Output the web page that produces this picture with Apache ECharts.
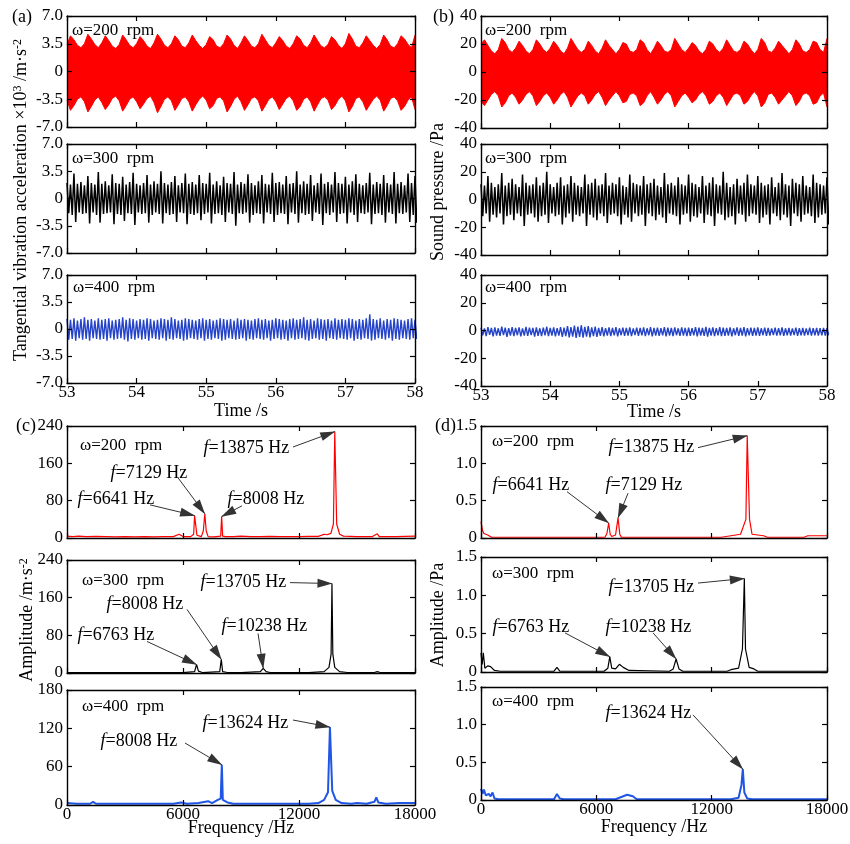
<!DOCTYPE html>
<html><head><meta charset="utf-8">
<script src="https://cdn.jsdelivr.net/npm/echarts@6/dist/echarts.min.js"></script>
<style>html,body{margin:0;padding:0;background:#fff}#c{width:850px;height:844px}</style>
</head><body><div id="c"></div><script>
// ---------------- DATA ----------------
const tStart = 53, tStep = 0.05;
const timeTicks = [53, 54, 55, 56, 57, 58];
const accTicks = [-7, -3.5, 0, 3.5, 7];
const presTicks = [-40, -20, 0, 20, 40];
const freqTicks = [0, 6000, 12000, 18000];
const ampAccTicks240 = [0, 80, 160, 240];
const ampAccTicks180 = [0, 60, 120, 180];
const ampPaTicks = [0, 0.5, 1.0, 1.5];

// (a) 200 rpm envelope (x10^3 m/s^2)
const a200Upper = [3.4,4.5,4.0,3.3,3.0,3.5,4.7,4.1,3.4,3.0,
3.6,4.5,3.9,3.2,2.9,3.4,4.6,4.0,3.3,3.0,
3.5,4.4,3.9,3.2,2.9,3.6,4.7,4.1,3.3,3.0,
3.5,4.5,4.0,3.2,3.0,3.6,4.6,3.9,3.3,2.9,
3.4,4.4,4.0,3.2,3.0,3.5,4.6,4.1,3.3,2.9,
3.6,4.5,3.9,3.2,3.0,3.5,4.7,4.0,3.3,3.0,
3.6,4.4,3.9,3.2,2.9,3.5,4.5,4.1,3.3,3.0,
3.6,4.6,3.9,3.2,3.0,3.4,4.4,4.0,3.3,2.9,
3.5,4.8,4.1,3.2,3.0,3.6,4.5,3.9,3.3,2.9,
3.4,4.6,4.0,3.2,3.0,3.5,4.5,4.1,3.4,3.0,4.6];
const a200Lower = [-3.6,-4.9,-4.3,-3.5,-3.2,-3.8,-5.1,-4.4,-3.6,-3.2,
-3.9,-4.8,-4.2,-3.4,-3.1,-3.7,-5.0,-4.3,-3.5,-3.2,
-3.8,-4.7,-4.1,-3.4,-3.1,-3.9,-5.2,-4.4,-3.5,-3.2,
-3.7,-4.9,-4.2,-3.4,-3.2,-3.8,-5.0,-4.2,-3.5,-3.1,
-3.6,-4.7,-4.3,-3.4,-3.2,-3.7,-5.1,-4.4,-3.5,-3.1,
-3.8,-4.9,-4.2,-3.4,-3.2,-3.7,-5.0,-4.3,-3.5,-3.2,
-3.8,-4.8,-4.1,-3.4,-3.1,-3.7,-4.9,-4.4,-3.5,-3.2,
-3.8,-5.0,-4.2,-3.4,-3.2,-3.6,-4.8,-4.3,-3.5,-3.1,
-3.7,-5.1,-4.4,-3.4,-3.2,-3.8,-4.9,-4.2,-3.5,-3.1,
-3.6,-5.0,-4.3,-3.4,-3.2,-3.7,-4.9,-4.4,-3.6,-3.2,-4.8];
// (a) 300 rpm oscillation peaks
const a300Up = [2.0,1.8,3.2,1.9,2.1,1.7,2.9,2.0,1.8,3.4,1.9,2.2,1.7,3.1,2.0,1.9,2.8,1.8,2.1,3.3,
1.9,1.7,2.0,3.0,1.8,2.2,1.9,3.5,2.0,1.8,2.1,2.9,1.7,2.0,3.2,1.9,2.1,1.8,3.0,2.0,
1.9,3.3,1.8,2.2,1.7,2.8,2.0,1.9,3.4,1.8,2.1,1.9,3.1,2.0,1.7,2.2,3.0,1.9,1.8,3.3,
2.0,2.1,1.8,2.9,1.9,2.0,3.5,1.8,2.2,1.9,3.0,1.7,2.0,3.2,1.9,2.1,1.8,3.4,2.0,1.9,
2.8,1.8,2.2,3.1,1.9,1.7,2.0,3.3,1.8,2.1,1.9,3.0,2.0,1.8,3.4,1.9,2.1,1.7,3.2,2.0,2.9];
const a300Down = [-1.9,-2.1,-3.0,-1.8,-2.0,-1.9,-3.2,-1.8,-2.1,-3.1,-2.0,-1.9,-1.8,-3.3,-2.0,-2.1,-2.9,-1.9,-2.0,-3.4,
-1.8,-2.0,-1.9,-3.1,-2.1,-1.8,-2.0,-3.2,-1.9,-2.1,-2.0,-3.0,-1.8,-1.9,-3.3,-2.0,-2.1,-1.9,-2.8,-2.0,
-1.8,-3.2,-2.0,-1.9,-2.1,-3.0,-1.8,-2.0,-3.5,-1.9,-2.0,-1.8,-3.1,-2.1,-1.9,-2.0,-3.2,-1.8,-2.0,-3.0,
-2.1,-1.9,-2.0,-3.3,-1.8,-2.0,-3.1,-1.9,-2.1,-2.0,-2.9,-1.8,-2.0,-3.4,-1.9,-2.1,-1.8,-3.0,-2.0,-1.9,
-3.2,-1.8,-2.1,-3.0,-1.9,-2.0,-1.8,-3.3,-2.0,-1.9,-2.1,-3.1,-1.8,-2.0,-3.2,-1.9,-2.0,-1.8,-3.0,-2.1,-3.1];
// (a) 400 rpm
const a400Up = [1.3,1.2,1.4,1.1,1.3,1.5,1.2,1.3,1.1,1.4,1.2,1.3,1.4,1.1,1.2,1.3,1.5,1.2,1.4,1.3,
1.1,1.3,1.2,1.4,1.3,1.1,1.2,1.4,1.3,1.2,1.5,1.3,1.1,1.2,1.4,1.3,1.2,1.1,1.3,1.4,
1.2,1.3,1.1,1.2,1.4,1.3,1.2,1.3,1.1,1.4,1.2,1.3,1.2,1.1,1.3,1.4,1.2,1.3,1.1,1.2,
1.4,1.3,1.2,1.1,1.3,1.4,1.2,1.3,1.5,1.2,1.3,1.1,1.4,1.3,1.2,1.3,1.1,1.4,1.2,1.3,
1.2,1.4,1.3,1.1,1.3,1.2,1.4,1.9,1.3,1.2,1.4,1.1,1.3,1.2,1.4,1.3,1.2,1.1,1.3,1.4,1.2];
const a400Down = [-1.4,-1.3,-1.5,-1.2,-1.4,-1.3,-1.5,-1.2,-1.3,-1.4,-1.3,-1.5,-1.2,-1.4,-1.3,-1.2,-1.4,-1.6,-1.3,-1.4,
-1.2,-1.4,-1.3,-1.5,-1.2,-1.3,-1.4,-1.2,-1.5,-1.3,-1.4,-1.2,-1.3,-1.5,-1.4,-1.2,-1.3,-1.4,-1.2,-1.5,
-1.3,-1.4,-1.2,-1.3,-1.5,-1.4,-1.2,-1.3,-1.4,-1.3,-1.2,-1.5,-1.3,-1.4,-1.2,-1.3,-1.4,-1.2,-1.5,-1.3,
-1.2,-1.4,-1.3,-1.5,-1.2,-1.4,-1.3,-1.2,-1.4,-1.5,-1.3,-1.2,-1.4,-1.3,-1.5,-1.2,-1.3,-1.4,-1.2,-1.3,
-1.4,-1.2,-1.5,-1.3,-1.4,-1.2,-1.3,-1.5,-1.4,-1.2,-1.3,-1.4,-1.2,-1.5,-1.3,-1.4,-1.2,-1.3,-1.4,-1.2,-1.3];
// (b) 200 rpm envelope (Pa)
const b200Upper = [20,23,19,15,13,16,24,21,16,14,
17,22,19,15,13,16,23,20,16,14,
17,22,19,15,13,17,24,20,16,14,
16,22,19,15,13,17,23,19,16,13,
16,21,20,15,14,16,23,21,16,13,
17,22,19,15,14,16,24,20,16,14,
17,21,19,15,13,16,22,20,16,14,
17,23,19,15,14,16,22,20,16,13,
16,24,21,15,14,17,22,19,16,13,
16,23,20,15,14,16,22,21,16,14,24];
const b200Lower = [-21,-24,-20,-16,-14,-17,-25,-22,-17,-15,
-18,-23,-20,-16,-14,-17,-24,-21,-17,-15,
-18,-23,-20,-16,-14,-18,-25,-21,-17,-15,
-17,-23,-20,-16,-14,-18,-24,-20,-17,-14,
-17,-22,-21,-16,-15,-17,-24,-22,-17,-14,
-18,-23,-20,-16,-14,-17,-25,-21,-17,-15,
-18,-22,-20,-16,-14,-17,-23,-21,-17,-15,
-18,-24,-20,-16,-15,-17,-23,-21,-17,-14,
-17,-25,-22,-16,-15,-18,-23,-20,-17,-14,
-17,-24,-21,-16,-15,-17,-23,-22,-17,-15,-25];
// (b) 300 rpm
const b300Up = [11,10,17,12,9,11,19,10,12,15,11,9,18,12,10,11,16,10,12,20,
11,9,12,16,10,11,17,12,10,9,18,11,12,15,10,11,19,10,12,11,
16,10,9,18,12,11,10,17,11,12,15,10,9,19,11,12,10,16,11,10,
18,12,11,9,17,10,12,16,11,10,20,12,9,11,15,10,12,18,11,10,
17,12,10,11,16,9,12,19,11,10,15,12,11,17,10,9,18,12,11,10,16];
const b300Down = [-12,-10,-16,-11,-13,-10,-18,-12,-11,-15,-10,-12,-19,-11,-10,-13,-16,-12,-11,-17,
-10,-12,-11,-18,-13,-10,-16,-11,-12,-10,-19,-11,-13,-15,-10,-12,-17,-11,-10,-12,
-18,-11,-13,-16,-10,-12,-11,-19,-10,-12,-15,-11,-13,-17,-10,-11,-12,-18,-11,-10,
-16,-12,-13,-10,-17,-11,-12,-19,-10,-11,-15,-13,-12,-18,-10,-11,-16,-12,-10,-11,
-17,-13,-11,-18,-10,-12,-15,-11,-13,-19,-10,-12,-16,-11,-10,-12,-17,-13,-11,-10,-18];
// (b) 400 rpm
const b400Up = [2,1.5,2.5,1.8,2.2,1.6,2.8,2,1.7,2.4,1.9,2.2,1.5,2.6,2,1.8,2.3,1.6,2.1,2.7,
1.9,2.3,1.7,2.5,2,3.2,2.4,3.5,2.8,3.8,2.6,3.1,2.2,2.8,1.9,2.4,1.7,2.2,1.8,2.5,
1.6,2.1,1.9,2.3,1.5,2,1.8,2.2,1.6,2.4,1.9,2.1,1.7,2.5,2,1.8,2.2,1.6,2.3,1.9,
2.1,1.7,2.4,2,1.8,2.6,1.9,2.2,1.7,2.4,2.1,1.8,2.3,1.6,2.2,1.9,2.5,1.7,2,1.8,
2.2,1.6,2.1,1.9,1.5,2,1.7,2.2,1.6,1.9,1.5,2.1,1.7,1.8,1.5,2,1.6,1.9,1.7,1.8,1.6];
const b400Down = [-3.5,-4,-3.2,-4.3,-3.6,-3.9,-3.3,-4.5,-3.7,-4,-3.4,-4.2,-3.6,-3.9,-3.3,-4.4,-3.8,-4.1,-3.5,-4,
-3.6,-4.3,-3.7,-4.6,-4,-5,-4.5,-5.3,-4.6,-5.1,-4.4,-4.9,-4.1,-4.6,-3.8,-4.3,-3.6,-4,-3.5,-4.2,
-3.4,-3.9,-3.6,-4.1,-3.3,-3.8,-3.5,-4,-3.4,-4.2,-3.6,-3.9,-3.5,-4.3,-3.7,-4,-3.4,-3.9,-3.6,-4.1,
-3.8,-3.5,-4.2,-3.7,-3.9,-4.4,-3.6,-4,-3.5,-4.1,-3.8,-3.6,-4.2,-3.4,-3.9,-3.7,-4.3,-3.5,-3.8,-3.6,
-3.9,-3.4,-3.8,-3.6,-3.3,-3.7,-3.5,-3.9,-3.4,-3.6,-3.3,-3.8,-3.5,-3.6,-3.3,-3.7,-3.4,-3.6,-3.5,-3.6,-3.4];

// (c) acceleration spectra (m/s^2)
const c200Freq = [0,300,600,1000,1500,2000,2500,3000,3500,4000,4500,5000,5500,5800,6000,6400,6550,6600,6680,6720,6800,6950,7050,7129,7200,7300,7600,7950,8000,8050,8200,8600,9000,9500,10000,10500,11000,11500,12000,12500,13000,13300,13450,13650,13780,13850,13900,13950,14100,14300,15000,15800,16050,16150,17000,18000];
const c200Amp = [4,3,4,3,3.5,3,2.5,3,2.5,3,2.5,3,3,8,3,3,8,48,48,6,3,3,15,52,15,3,2.5,4,46,4,3,3,4,3,3,3.5,3,3,3,3.5,3.5,8,7,10,30,228,228,30,8,4,3,3,9,3,3,4];
const c300Freq = [0,1000,3000,5000,6000,6600,6700,6800,7000,7900,7980,8050,8300,9000,10000,10150,10300,10500,12500,13300,13550,13660,13705,13750,13850,14100,14500,15900,16050,16200,18000];
const c300Amp = [1,1,1,1,1,3,18,4,1,3,29,3,1,1,3,10,3,1,1,3,12,40,190,40,12,3,1,1,3,1,1];
const c400Freq = [0,500,1200,1350,1500,3000,5500,5900,6200,6800,7300,7500,7800,7950,8008,8060,8300,8600,9500,11500,11600,11800,12500,13000,13300,13500,13600,13650,13720,13900,14200,14700,15000,15500,15900,16000,16100,16500,17200,17300,18000];
const c400Amp = [3,2,2,5,2,2,2,4,2,3,6,3,8,10,63,8,4,2,2,2,3,2,2,3,8,20,122,122,22,8,3,2,3,2,5,12,4,2,3,2,3];
// (d) sound pressure spectra (Pa)
const d200Freq = [0,80,150,250,350,450,550,1000,3000,6000,6450,6550,6641,6720,6800,7000,7129,7220,7300,9000,9100,9200,12500,13000,13500,13780,13850,13900,13970,14100,14700,14900,16800,17000,18000];
const d200Amp = [0.22,0.1,0.06,0.08,0.04,0.05,0.01,0.01,0.01,0.01,0.01,0.06,0.2,0.05,0.02,0.04,0.27,0.05,0.01,0.01,0.03,0.01,0.01,0.03,0.05,0.25,1.37,1.37,0.25,0.05,0.03,0.01,0.01,0.03,0.03];
const d300Freq = [0,60,120,200,350,500,700,1000,3800,3950,4100,6400,6600,6700,6800,7000,7200,7400,7700,9800,10000,10150,10300,10500,12800,13000,13400,13600,13700,13760,13950,14200,14400,18000];
const d300Amp = [0.25,0.1,0.25,0.05,0.08,0.07,0.02,0.01,0.01,0.06,0.01,0.01,0.05,0.2,0.05,0.04,0.1,0.06,0.02,0.01,0.04,0.17,0.04,0.01,0.01,0.03,0.05,0.3,1.22,0.3,0.06,0.04,0.01,0.01];
const d400Freq = [0,80,150,250,400,500,600,700,900,3800,3950,4100,4300,7000,7300,7600,7900,8100,13000,13400,13550,13620,13700,13850,14100,18000];
const d400Amp = [0.15,0.08,0.14,0.06,0.08,0.05,0.1,0.02,0.01,0.01,0.08,0.02,0.01,0.01,0.04,0.07,0.05,0.01,0.01,0.03,0.2,0.41,0.1,0.02,0.01,0.01];

// annotated peak frequencies (Hz)
const c200Peaks = [13875, 7129, 6641, 8008];
const c300Peaks = [13705, 8008, 10238, 6763];
const c400Peaks = [13624, 8008];
const d200Peaks = [13875, 6641, 7129];
const d300Peaks = [13705, 6763, 10238];
const d400Peaks = [13624];

// ---------------- BUILD ----------------
const FONT = '"Liberation Serif","Times New Roman",serif';
const RED = '#ff0000', BLACK = '#000000', BLUE_T = '#2443c8', BLUE_S = '#1f56e6';
const grids = [], xAxis = [], yAxis = [], series = [], graphic = [];

function txt(x, y, text, size, extra) {
  graphic.push(Object.assign({
    type: 'text', x: x, y: y, z: 50, silent: true,
    style: { text: text, font: size + 'px ' + FONT, fill: '#000',
      align: 'left', verticalAlign: 'middle', textAlign: 'left', textVerticalAlign: 'middle' }
  }, extra || {}));
}
const f1 = v => (v === 0 ? '0' : v.toFixed(1));
const f0 = v => String(v);

function panel(g) {
  const gi = grids.length;
  grids.push({ left: g.left, top: g.top, width: g.width, height: g.height, containLabel: false, outerBoundsMode: 'none' });
  const line = { show: true, onZero: false, lineStyle: { color: '#000', width: 1.4 } };
  const tick = { show: true, inside: true, length: 5, lineStyle: { color: '#000', width: 1.2 } };
  const lab = { color: '#000', fontFamily: FONT, fontSize: 17 };
  const xr = { min: g.xt[0], max: g.xt[g.xt.length - 1], interval: g.xt[1] - g.xt[0] };
  const yr = { min: g.yt[0], max: g.yt[g.yt.length - 1], interval: g.yt[1] - g.yt[0] };
  xAxis.push(Object.assign({ type: 'value', gridIndex: gi, position: 'bottom', axisLine: line, axisTick: tick, z: 5,
    splitLine: { show: false }, axisLabel: Object.assign({ show: !!g.showX, margin: 1, formatter: f0, showMinLabel: true, showMaxLabel: true }, lab) }, xr));
  xAxis.push(Object.assign({ type: 'value', gridIndex: gi, position: 'top', axisLine: line, axisTick: tick, z: 5,
    splitLine: { show: false }, axisLabel: { show: false } }, xr));
  yAxis.push(Object.assign({ type: 'value', gridIndex: gi, position: 'left', axisLine: line, axisTick: tick, z: 5,
    splitLine: { show: false }, axisLabel: Object.assign({ margin: 4, formatter: g.yFmt, showMinLabel: true, showMaxLabel: true }, lab) }, yr));
  yAxis.push(Object.assign({ type: 'value', gridIndex: gi, position: 'right', axisLine: line, axisTick: tick, z: 5,
    splitLine: { show: false }, axisLabel: { show: false } }, yr));
  txt(g.left + g.rpmDx, g.top + g.rpmDy, '\u03c9=' + g.rpm + '  rpm', 17);
  return { xi: 2 * gi, yi: 2 * gi, gi: gi };
}

const base = { showSymbol: false, symbol: 'none', silent: true, animation: false, clip: true };
// filled band: colour from the upper envelope down to the axis floor, then
// white from the lower envelope down to the floor (axes are drawn on top)
function band(ax, up, lo, color) {
  series.push(Object.assign({ type: 'line', xAxisIndex: ax.xi, yAxisIndex: ax.yi, z: 2,
    data: up.map((v, i) => [tStart + i * tStep, v]),
    lineStyle: { color: color, width: 1 }, areaStyle: { color: color, opacity: 1, origin: 'start' } }, base));
  series.push(Object.assign({ type: 'line', xAxisIndex: ax.xi, yAxisIndex: ax.yi, z: 3,
    data: lo.map((v, i) => [tStart + i * tStep, v]),
    lineStyle: { color: color, width: 1 }, areaStyle: { color: '#ffffff', opacity: 1, origin: 'start' } }, base));
}
function zig(ax, up, dn, color, w) {
  const d = [];
  up.forEach((v, i) => { d.push([tStart + i * tStep, v]); d.push([tStart + (i + 0.5) * tStep, dn[i]]); });
  series.push(Object.assign({ type: 'line', xAxisIndex: ax.xi, yAxisIndex: ax.yi, data: d,
    lineStyle: { color: color, width: w } }, base));
}
function peakNear(fr, am, f) {
  let bi = -1;
  fr.forEach((x, i) => { if (Math.abs(x - f) <= 250 && (bi < 0 || am[i] > am[bi])) bi = i; });
  return [fr[bi], am[bi]];
}
// ann: list of {at:[f,a] label anchor (left-middle), from:[f,a] arrow tail}
function spec(ax, fr, am, color, w, peaks, ann) {
  series.push(Object.assign({ type: 'line', xAxisIndex: ax.xi, yAxisIndex: ax.yi,
    data: fr.map((f, i) => [f, am[i]]), lineStyle: { color: color, width: w } }, base));
  series.push({
    type: 'scatter', xAxisIndex: ax.xi, yAxisIndex: ax.yi, silent: true, animation: false, z: 6,
    symbolSize: 1, itemStyle: { color: 'rgba(0,0,0,0)', opacity: 1 },
    data: peaks.map((p, k) => ({ value: ann[k].at, name: String(p) })),
    label: { show: true, position: 'right', distance: 0, color: '#000', opacity: 1,
      formatter: p => '{i|f}{n|=' + p.name + ' Hz}',
      rich: { i: { fontFamily: FONT, fontStyle: 'italic', fontSize: 18, color: '#000' },
              n: { fontFamily: FONT, fontSize: 18, color: '#000' } } },
    markLine: {
      silent: true, animation: false, symbol: ['none', 'triangle'], symbolSize: [0, 12],
      label: { show: false }, lineStyle: { color: '#333', width: 1, type: 'solid' },
      itemStyle: { color: '#000' },
      emphasis: { disabled: true },
      data: peaks.map((p, k) => [
        { coord: ann[k].from, symbol: 'none', symbolSize: 0 },
        { coord: peakNear(fr, am, p), symbol: 'triangle', symbolSize: [9, 15], symbolOffset: [0, 7],
          itemStyle: { color: '#000' } }
      ])
    }
  });
}

const L = { left: 67, width: 348 }, R = { left: 481, width: 346 };
// time panels
let ax;
ax = panel({ left: L.left, width: L.width, top: 16, height: 111, xt: timeTicks, yt: accTicks, yFmt: f1, rpm: 200, rpmDx: 5, rpmDy: 15 });
band(ax, a200Upper, a200Lower, RED);
ax = panel({ left: L.left, width: L.width, top: 144, height: 109, xt: timeTicks, yt: accTicks, yFmt: f1, rpm: 300, rpmDx: 5, rpmDy: 15 });
zig(ax, a300Up, a300Down, BLACK, 1.5);
ax = panel({ left: L.left, width: L.width, top: 275, height: 108, xt: timeTicks, yt: accTicks, yFmt: f1, rpm: 400, rpmDx: 6, rpmDy: 13, showX: true });
zig(ax, a400Up, a400Down, BLUE_T, 1.4);
ax = panel({ left: R.left, width: R.width, top: 16, height: 112, xt: timeTicks, yt: presTicks, yFmt: f0, rpm: 200, rpmDx: 4, rpmDy: 15 });
band(ax, b200Upper, b200Lower, RED);
ax = panel({ left: R.left, width: R.width, top: 144, height: 111, xt: timeTicks, yt: presTicks, yFmt: f0, rpm: 300, rpmDx: 4, rpmDy: 15 });
zig(ax, b300Up, b300Down, BLACK, 1.5);
ax = panel({ left: R.left, width: R.width, top: 275, height: 111, xt: timeTicks, yt: presTicks, yFmt: f0, rpm: 400, rpmDx: 4, rpmDy: 13, showX: true });
zig(ax, b400Up, b400Down, BLUE_T, 1.4);

// spectrum panels
ax = panel({ left: L.left, width: L.width, top: 426, height: 112, xt: freqTicks, yt: ampAccTicks240, yFmt: f0, rpm: 200, rpmDx: 13, rpmDy: 20 });
spec(ax, c200Freq, c200Amp, RED, 1.2, c200Peaks, [
  { at: [7036, 193], from: [11690, 195] }, { at: [2224, 139], from: [5742, 129] },
  { at: [517, 84], from: [4294, 71] }, { at: [8277, 84], from: [9053, 69] }]);
ax = panel({ left: L.left, width: L.width, top: 560, height: 113, xt: freqTicks, yt: ampAccTicks240, yFmt: f0, rpm: 300, rpmDx: 15, rpmDy: 21 });
spec(ax, c300Freq, c300Amp, BLACK, 1.2, c300Peaks, [
  { at: [6881, 192], from: [11537, 192] }, { at: [2018, 145], from: [6208, 135] },
  { at: [7967, 99], from: [9881, 84] }, { at: [517, 80], from: [4139, 67] }]);
ax = panel({ left: L.left, width: L.width, top: 690, height: 115, xt: freqTicks, yt: ampAccTicks180, yFmt: f0, rpm: 400, rpmDx: 15, rpmDy: 17, showX: true });
spec(ax, c400Freq, c400Amp, BLUE_S, 2, c400Peaks, [
  { at: [6984, 128], from: [11690, 133] }, { at: [1707, 100], from: [6104, 97] }]);
ax = panel({ left: R.left, width: R.width, top: 426, height: 112, xt: freqTicks, yt: ampPaTicks, yFmt: f1, rpm: 200, rpmDx: 11, rpmDy: 16 });
spec(ax, d200Freq, d200Amp, RED, 1.2, d200Peaks, [
  { at: [6608, 1.22], from: [11290, 1.21] }, { at: [572, 0.71], from: [4475, 0.62] },
  { at: [6450, 0.71], from: [7650, 0.6] }]);
ax = panel({ left: R.left, width: R.width, top: 557, height: 115, xt: freqTicks, yt: ampPaTicks, yFmt: f1, rpm: 300, rpmDx: 11, rpmDy: 17 });
spec(ax, d300Freq, d300Amp, BLACK, 1.2, d300Peaks, [
  { at: [6608, 1.11], from: [11290, 1.16] }, { at: [572, 0.59], from: [4370, 0.51] },
  { at: [6450, 0.59], from: [8950, 0.51] }]);
ax = panel({ left: R.left, width: R.width, top: 687, height: 113, xt: freqTicks, yt: ampPaTicks, yFmt: f1, rpm: 400, rpmDx: 11, rpmDy: 15, showX: true });
spec(ax, d400Freq, d400Amp, BLUE_S, 2, d400Peaks, [
  { at: [6450, 1.15], from: [11030, 1.13] }]);

// panel letters
txt(12, 17, '(a)', 18); txt(433, 17, '(b)', 18);
txt(16, 426, '(c)', 18); txt(435, 426, '(d)', 18);
// axis names
const supRich = {
  n: { fontFamily: FONT, fontSize: 18, color: '#000' },
  s: { fontFamily: FONT, fontSize: 12, color: '#000', verticalAlign: 'top' }
};
function vname(x, y, text) {
  graphic.push({ type: 'text', x: x, y: y, rotation: Math.PI / 2, z: 50, silent: true,
    style: { text: text, rich: supRich, font: '18px ' + FONT, fill: '#000',
      align: 'center', verticalAlign: 'middle', textAlign: 'center', textVerticalAlign: 'middle' } });
}
vname(21, 200, '{n|Tangential vibration acceleration \u00d710}{s|3}{n| /m\u00b7s}{s|-2}');
vname(438, 192, '{n|Sound pressure /Pa}');
vname(27, 620, '{n|Amplitude /m\u00b7s}{s|-2}');
vname(438, 615, '{n|Amplitude /Pa}');
function hname(x, y, text) {
  graphic.push({ type: 'text', x: x, y: y, z: 50, silent: true,
    style: { text: text, font: '18px ' + FONT, fill: '#000',
      align: 'center', verticalAlign: 'middle', textAlign: 'center', textVerticalAlign: 'middle' } });
}
hname(241, 411, 'Time /s'); hname(654, 412, 'Time /s');
hname(241, 828, 'Frequency /Hz'); hname(654, 827, 'Frequency /Hz');

const chart = echarts.init(document.getElementById('c'), null, { renderer: 'canvas' });
chart.setOption({ animation: false, backgroundColor: '#fff', grid: grids, xAxis: xAxis, yAxis: yAxis, series: series, graphic: graphic });
</script></body></html>
